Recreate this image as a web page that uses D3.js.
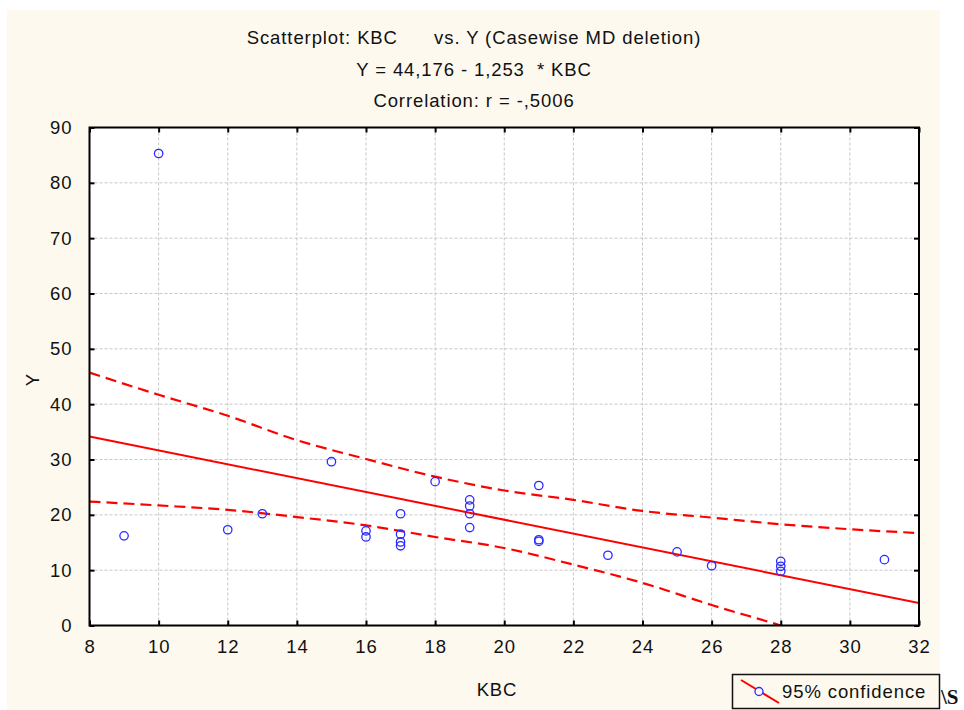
<!DOCTYPE html>
<html>
<head>
<meta charset="utf-8">
<script src="https://cdn.jsdelivr.net/npm/d3@7"></script>
<style>
  body { margin: 0; background: #ffffff; }
  text { font-family: "Liberation Sans", Arial, sans-serif; }
</style>
</head>
<body>
<div id="chart"></div>
<script>

// data points (KBC, Y)
var kbcValues = [9, 10, 12, 13, 15, 16, 16, 17, 17, 17, 17, 18, 19, 19, 19, 19, 21, 21, 21, 23, 25, 26, 28, 28, 28, 31]
var yValues   = [16.2, 85.3, 17.3, 20.2, 29.6, 17.1, 16.0, 20.2, 16.5, 15.1, 14.4, 26.0, 22.7, 21.6, 20.2, 17.7, 25.3, 15.5, 15.2, 12.7, 13.3, 10.8, 11.6, 10.7, 9.8, 11.9]

// regression Y = 44,176 - 1,253 * KBC
var intercept = 44.176
var slope = -1.253

// 95% confidence band
var bandX     = [8, 10, 12, 14, 16, 18, 20, 22, 24, 26, 28, 30, 32]
var bandUpper = [45.7, 41.7, 37.9, 33.5, 30.1, 26.9, 24.4, 22.7, 20.7, 19.5, 18.3, 17.4, 16.7]
var bandLower = [22.4, 21.7, 20.9, 19.6, 18.1, 16.0, 14.0, 11.0, 7.7, 3.7, 0.0, -4.0, -8.4]

var xTicks = [8, 10, 12, 14, 16, 18, 20, 22, 24, 26, 28, 30, 32]
var yTicks = [0, 10, 20, 30, 40, 50, 60, 70, 80, 90]

var titleLines = [
    "Scatterplot: KBC      vs. Y (Casewise MD deletion)",
    "Y = 44,176 - 1,253  * KBC",
    "Correlation: r = -,5006"
]

var width = 964, height = 710
var margin = {top: 127.5, right: 45, bottom: 84.5, left: 89.5}
var plotW = width - margin.left - margin.right,
    plotH = height - margin.top - margin.bottom

var svg = d3.select("#chart")
    .append("svg")
    .attr("width", width)
    .attr("height", height)

// cream panel
svg.append("rect")
    .attr("x", 7).attr("y", 10)
    .attr("width", 933).attr("height", 700)
    .style("fill", "#fdf9ef")

var titleFont = "18.5px"

svg.selectAll(".title")
    .data(titleLines)
    .enter()
    .append("text")
      .attr("class", "title")
      .attr("x", 474)
      .attr("y", function(d, i){ return 44 + i * 31.5 })
      .attr("text-anchor", "middle")
      .style("white-space", "pre")
      .attr("xml:space", "preserve")
      .style("letter-spacing", "0.9px")
      .attr("font-size", titleFont)
      .attr("fill", "#111")
      .text(function(d){ return d })

var x = d3.scaleLinear().domain([8, 32]).range([0, plotW])
var y = d3.scaleLinear().domain([0, 90]).range([plotH, 0])

var g = svg.append("g")
    .attr("transform", "translate(" + margin.left + "," + margin.top + ")")

g.append("rect")
    .attr("width", plotW).attr("height", plotH)
    .style("fill", "#ffffff")

g.append("clipPath").attr("id", "clip")
  .append("rect").attr("width", plotW).attr("height", plotH)

// grid lines
g.selectAll(".vgrid")
    .data(xTicks.slice(1, -1))
    .enter().append("line")
      .attr("x1", function(d){ return x(d) }).attr("x2", function(d){ return x(d) })
      .attr("y1", 0).attr("y2", plotH)
      .style("stroke", "#c6c6c6").style("stroke-dasharray", "3,2")

g.selectAll(".hgrid")
    .data(yTicks.slice(1, -1))
    .enter().append("line")
      .attr("y1", function(d){ return y(d) }).attr("y2", function(d){ return y(d) })
      .attr("x1", 0).attr("x2", plotW)
      .style("stroke", "#c6c6c6").style("stroke-dasharray", "3,2")

// confidence band
var bandLine = d3.line().curve(d3.curveMonotoneX)
    .x(function(d){ return x(d[0]) })
    .y(function(d){ return y(d[1]) })

var lines = g.append("g").attr("clip-path", "url(#clip)")

lines.selectAll(".band")
    .data([d3.zip(bandX, bandUpper), d3.zip(bandX, bandLower)])
    .enter().append("path")
      .attr("d", bandLine)
      .style("fill", "none")
      .style("stroke", "#ff0000")
      .style("stroke-width", 2.2)
      .style("stroke-dasharray", "11,6")

// regression line
lines.append("line")
    .attr("x1", x(8)).attr("y1", y(intercept + slope * 8))
    .attr("x2", x(32)).attr("y2", y(intercept + slope * 32))
    .style("stroke", "#ff0000")
    .style("stroke-width", 2)

// points
g.selectAll(".pt")
    .data(d3.zip(kbcValues, yValues))
    .enter().append("circle")
      .attr("cx", function(d){ return x(d[0]) })
      .attr("cy", function(d){ return y(d[1]) })
      .attr("r", 4.2)
      .style("fill", "none")
      .style("stroke", "#2b2bff")
      .style("stroke-width", 1.3)

// frame and inward ticks on all four sides
g.append("rect")
    .attr("width", plotW).attr("height", plotH)
    .style("fill", "none").style("stroke", "#000").style("stroke-width", 2)

var xAxisB = d3.axisBottom(x).tickValues(xTicks).tickSizeInner(-5).tickSizeOuter(0).tickPadding(14)
var xAxisT = d3.axisTop(x).tickValues(xTicks).tickSizeInner(-5).tickSizeOuter(0).tickFormat("")
var yAxisL = d3.axisLeft(y).tickValues(yTicks).tickSizeInner(-5).tickSizeOuter(0).tickPadding(17)
var yAxisR = d3.axisRight(y).tickValues(yTicks).tickSizeInner(-5).tickSizeOuter(0).tickFormat("")

function styleAxis(sel){
    sel.select(".domain").remove()
    sel.selectAll(".tick line").style("stroke", "#000").style("stroke-width", 2)
    sel.selectAll(".tick text")
        .attr("font-family", "Liberation Sans, Arial, sans-serif")
        .attr("font-size", titleFont)
        .style("letter-spacing", "0.9px")
        .attr("fill", "#111")
}

g.append("g").attr("transform", "translate(0," + plotH + ")").call(xAxisB).call(styleAxis)
g.append("g").call(xAxisT).call(styleAxis)
g.append("g").call(yAxisL).call(styleAxis)
g.append("g").attr("transform", "translate(" + plotW + ",0)").call(yAxisR).call(styleAxis)

// axis titles
svg.append("text")
    .attr("x", 497).attr("y", 696)
    .attr("text-anchor", "middle")
    .attr("font-size", titleFont)
    .style("letter-spacing", "0.9px")
    .attr("fill", "#111")
    .text("KBC")

svg.append("text")
    .attr("transform", "translate(39,380) rotate(-90)")
    .attr("text-anchor", "middle")
    .attr("font-size", titleFont)
    .attr("fill", "#111")
    .text("Y")

// legend
var legend = svg.append("g")
legend.append("rect")
    .attr("x", 732.5).attr("y", 674.5)
    .attr("width", 207).attr("height", 34)
    .style("fill", "#fdf9ef").style("stroke", "#111").style("stroke-width", 1.5)
legend.append("line")
    .attr("x1", 741).attr("y1", 680).attr("x2", 779).attr("y2", 703)
    .style("stroke", "#ff0000").style("stroke-width", 2)
legend.append("circle")
    .attr("cx", 759).attr("cy", 691.5).attr("r", 4)
    .style("fill", "#fdf9ef").style("stroke", "#2b2bff").style("stroke-width", 1.3)
legend.append("text")
    .attr("x", 782).attr("y", 698)
    .attr("font-size", titleFont)
    .style("letter-spacing", "0.9px")
    .attr("fill", "#111")
    .text("95% confidence")

svg.append("text")
    .attr("x", 941).attr("y", 704)
    .style("font-family", "Liberation Serif, serif")
    .style("font-weight", "bold")
    .attr("font-size", "21px")
    .attr("fill", "#111")
    .text("\\S")

</script>
</body>
</html>
